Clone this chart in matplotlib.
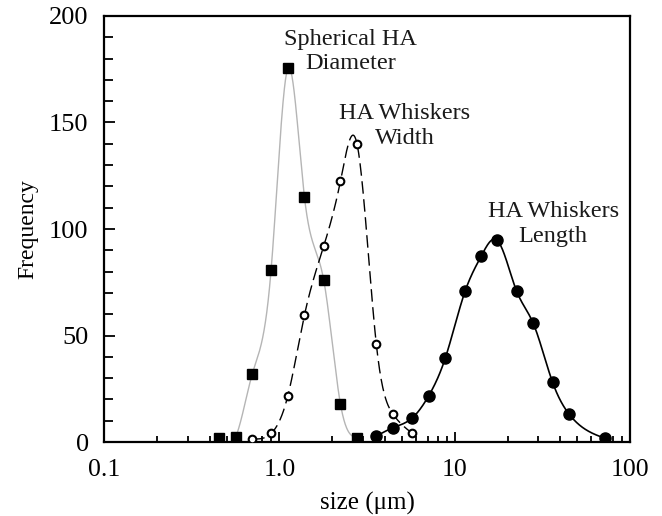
import numpy as np
import matplotlib
matplotlib.use("Agg")
import matplotlib.pyplot as plt
from matplotlib.ticker import FixedLocator, LogLocator, MultipleLocator, NullFormatter

# Spherical HA diameter (squares)
sphere_size = [0.453, 0.564, 0.70, 0.897, 1.117, 1.39, 1.79, 2.23, 2.77]
sphere_freq = [2, 2.5, 31.8, 80.7, 175.4, 114.9, 76, 17.8, 2]

# HA whiskers width (open circles)
width_size = [0.70, 0.897, 1.117, 1.39, 1.79, 2.23, 2.77, 3.57, 4.45, 5.74]
width_freq = [1.5, 4, 21.6, 59.6, 92, 122.5, 140, 45.9, 13, 4]

# HA whiskers length (filled circles)
length_size = [3.57, 4.45, 5.74, 7.09, 8.82, 11.46, 14.15, 17.38, 22.5, 28.0,
               36.1, 44.9, 72.1]
length_freq = [2.8, 6.7, 11.4, 21.6, 39.3, 70.9, 87.3, 94.8, 70.9, 55.7,
               28, 13, 1.7]

x_ticks = [0.1, 1.0, 10, 100]
x_labels = ["0.1", "1.0", "10", "100"]


def smooth(x, y, n=400):
    # natural cubic spline in log10(x)
    t = np.log10(np.asarray(x, float))
    y = np.asarray(y, float)
    k = len(t)
    h = np.diff(t)
    A = np.zeros((k, k))
    b = np.zeros(k)
    A[0, 0] = A[-1, -1] = 1
    for i in range(1, k - 1):
        A[i, i - 1] = h[i - 1]
        A[i, i] = 2 * (h[i - 1] + h[i])
        A[i, i + 1] = h[i]
        b[i] = 6 * ((y[i + 1] - y[i]) / h[i] - (y[i] - y[i - 1]) / h[i - 1])
    m = np.linalg.solve(A, b)
    tt = np.linspace(t[0], t[-1], n)
    j = np.clip(np.searchsorted(t, tt) - 1, 0, k - 2)
    dt = tt - t[j]
    hj = h[j]
    a = (y[j + 1] - y[j]) / hj - hj * (2 * m[j] + m[j + 1]) / 6
    yy = y[j] + a * dt + m[j] / 2 * dt ** 2 + (m[j + 1] - m[j]) / (6 * hj) * dt ** 3
    return 10 ** tt, yy


def label(ax, x, y, lines):
    # each line placed on its own baseline, 11.5 data units apart
    for i, s in enumerate(lines):
        ax.text(x, y - i * 11.5, s, ha="center", va="baseline",
                fontsize=17.5, color="#1a1a1a")


plt.rcParams['font.family'] = ['Liberation Serif', 'DejaVu Serif']

fig = plt.figure(figsize=(6.62, 5.16), dpi=100)
ax = fig.add_axes([0.157, 0.1434, 0.795, 0.8256])

sx, sy = smooth(sphere_size, sphere_freq)
ax.plot(sx, sy, color="#b5b5b5", lw=1.0, zorder=2)
ax.plot(sphere_size, sphere_freq, ls="none", marker="s", ms=7.5, color="black", zorder=4)

wx, wy = smooth(width_size, width_freq)
ax.plot(wx, wy, color="black", lw=1.0, dashes=(9, 4), zorder=2)
ax.plot(width_size, width_freq, ls="none", marker="o", ms=5.5, mfc="white",
        mec="black", mew=1.5, zorder=4)

lx, ly = smooth(length_size, length_freq)
ax.plot(lx, ly, color="black", lw=1.2, zorder=2)
ax.plot(length_size, length_freq, ls="none", marker="o", ms=8, color="black", zorder=4)

ax.set_xscale("log")
ax.set_xlim(0.1, 100)
ax.set_ylim(0, 200)

ax.xaxis.set_major_locator(FixedLocator(x_ticks))
ax.set_xticklabels(x_labels)
ax.xaxis.set_minor_locator(LogLocator(base=10, subs=np.arange(2, 10)))
ax.xaxis.set_minor_formatter(NullFormatter())
ax.yaxis.set_major_locator(MultipleLocator(50))
ax.yaxis.set_minor_locator(MultipleLocator(10))

ax.tick_params(which="both", direction="in", top=False, right=False, width=1.3)
ax.tick_params(axis="y", which="major", length=8, pad=11, labelsize=19)
ax.tick_params(axis="y", which="minor", length=6.5)
ax.tick_params(axis="x", which="major", length=7, pad=12, labelsize=18.5)
ax.tick_params(axis="x", which="minor", length=4)
for s in ax.spines.values():
    s.set_linewidth(1.6)

ax.set_xlabel("size (\u03bcm)", fontsize=18, labelpad=8)
ax.set_ylabel("Frequency", fontsize=17, labelpad=8)

label(ax, 2.54, 186.4, ["Spherical HA", "Diameter"])
label(ax, 5.16, 151.5, ["HA Whiskers", "Width"])
label(ax, 36.4, 105.5, ["HA Whiskers", "Length"])

fig.savefig("out.png", dpi=100)
